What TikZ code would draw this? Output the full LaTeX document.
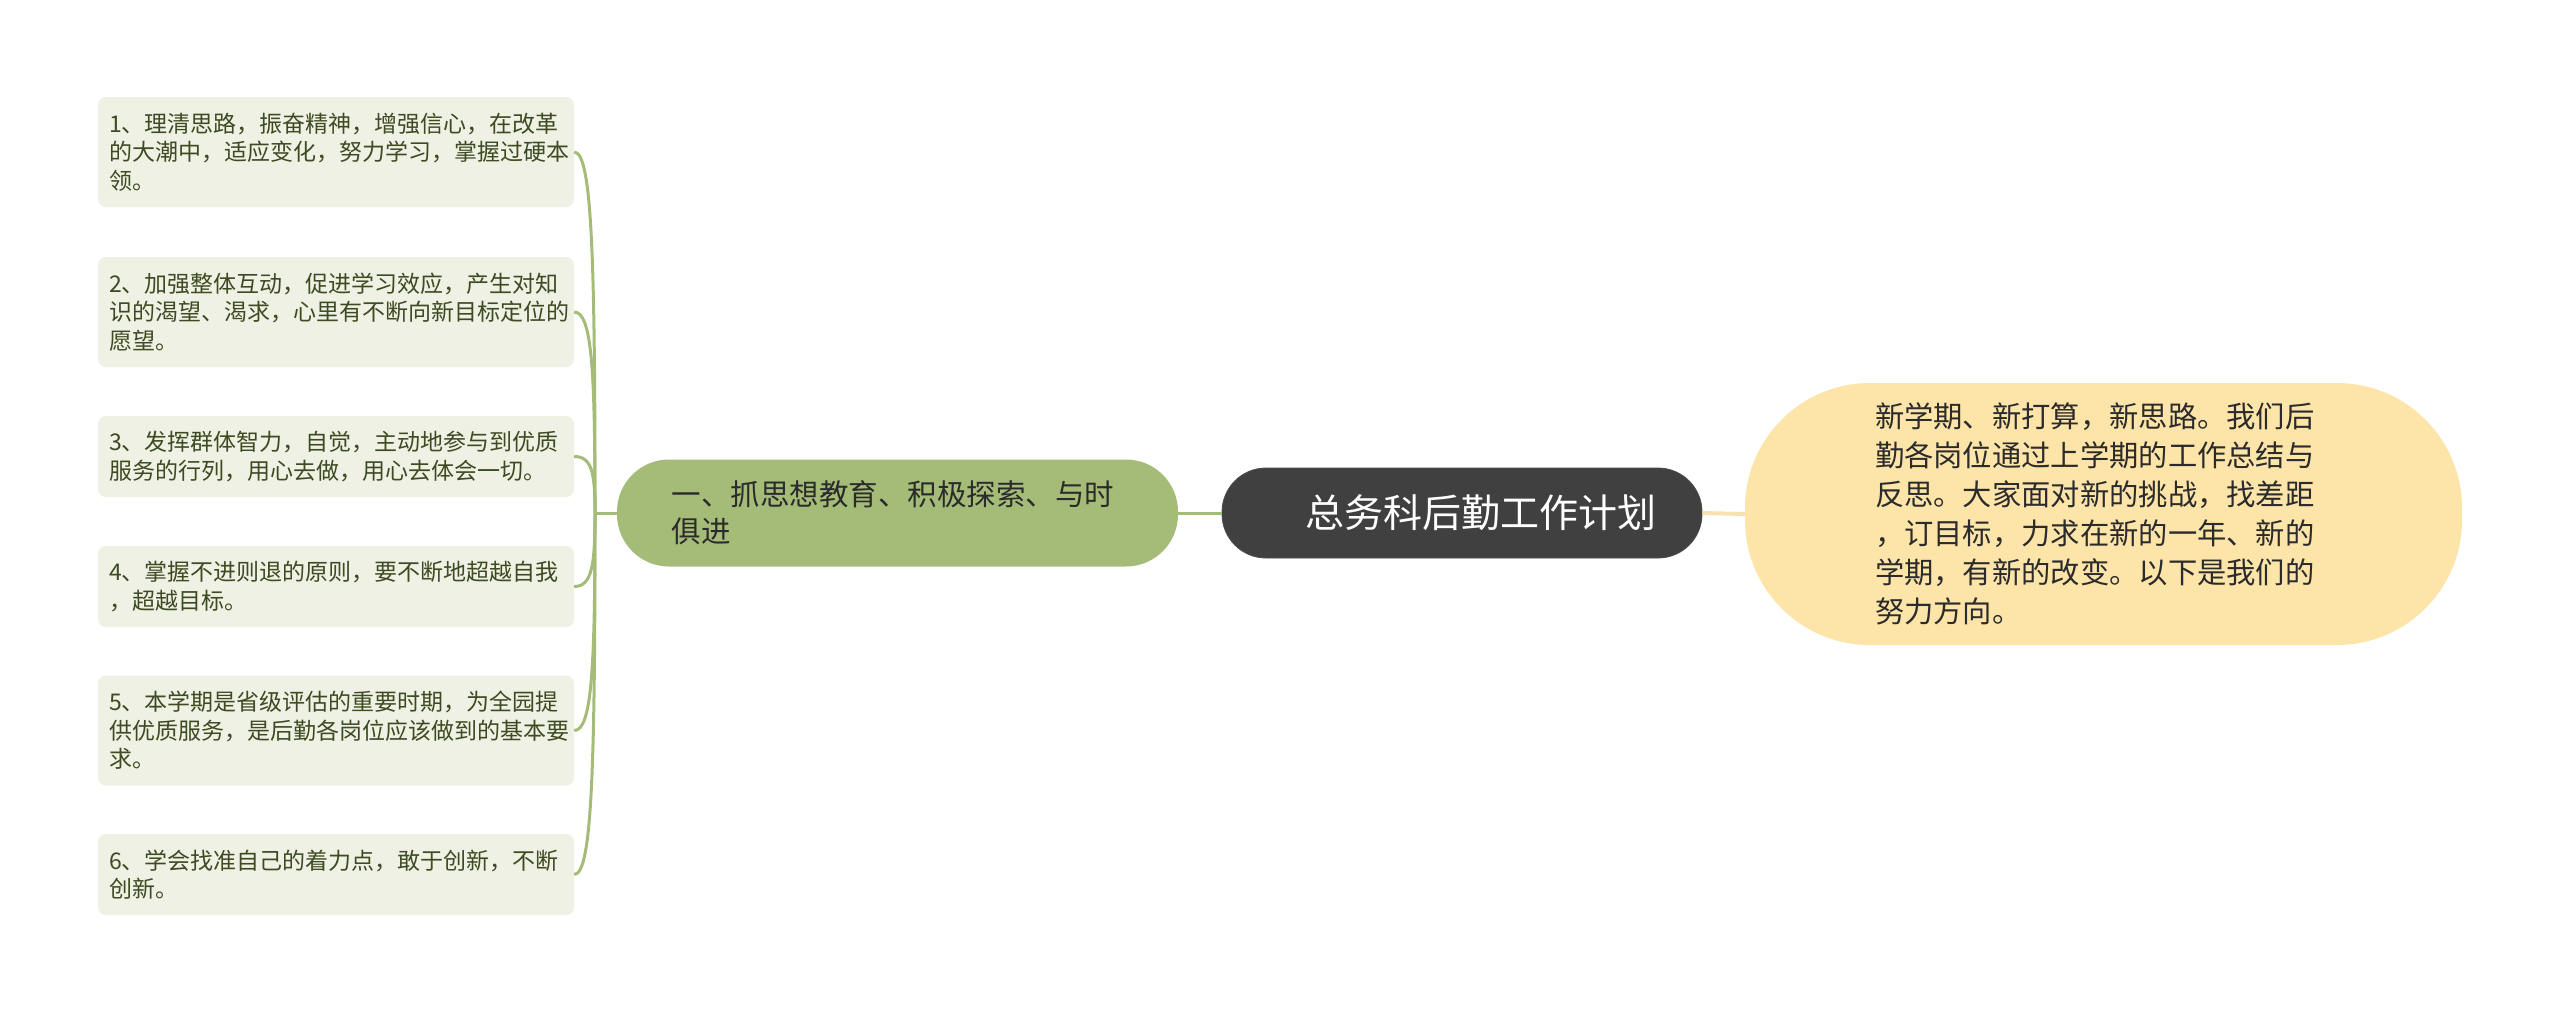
\documentclass[tikz,border=0pt]{standalone}
\usepackage{fontspec}
\setmainfont{Noto Sans CJK SC}
\usetikzlibrary{calc}

\definecolor{leaffill}{HTML}{EEF1E3}
\definecolor{leaftext}{HTML}{3D4A22}
\definecolor{twiggreen}{HTML}{A5BC79}
\definecolor{rootgray}{HTML}{404040}
\definecolor{introfill}{HTML}{FDE4A9}
\definecolor{introline}{HTML}{F8E2AE}
\definecolor{bodytext}{HTML}{2B2B2B}

\tikzset{
  leaf/.style={rectangle,rounded corners=8pt,fill=leaffill,text=leaftext,
    minimum width=476pt,inner xsep=11pt,inner ysep=0pt,text width=454pt,align=left,
    font=\fontsize{23}{28.5}\selectfont},
  twig/.style={draw=twiggreen,line width=3pt},
  branch/.style={rectangle,rounded corners=52pt,fill=twiggreen,text=bodytext,
    minimum width=561pt,minimum height=107pt,text width=452pt,align=left,
    font=\fontsize{29.5}{37}\selectfont},
  rootbox/.style={rectangle,rounded corners=44pt,fill=rootgray,draw=black!70,line width=0.8pt,
    text=white,minimum width=480pt,minimum height=90pt,
    font=\fontsize{39}{44}\selectfont},
  intro/.style={rectangle,rounded corners=125pt,fill=introfill,text=bodytext,
    minimum width=717pt,minimum height=262pt,text width=457pt,align=left,
    font=\fontsize{29.3}{39}\selectfont}
}

\begin{document}
\begin{tikzpicture}[x=1pt,y=-1pt]
  \useasboundingbox (0,0) rectangle (2560,1013);

  \node [rootbox] (main) at (1462,513) {\hspace{38pt}总务科后勤工作计划};
  \node [branch] (branch) at (897.5,513) {一、抓思想教育、积极探索、与时\\俱进};
  \node [intro] (intro) at (2103.5,514) {新学期、新打算，新思路。我们后\\勤各岗位通过上学期的工作总结与\\反思。大家面对新的挑战，找差距\\，订目标，力求在新的一年、新的\\学期，有新的改变。以下是我们的\\努力方向。};

  \node [leaf,minimum height=110pt] (l1) at (336,152) {1、理清思路，振奋精神，增强信心，在改革\\的大潮中，适应变化，努力学习，掌握过硬本\\领。};
  \node [leaf,minimum height=110pt] (l2) at (336,312) {2、加强整体互动，促进学习效应，产生对知\\识的渴望、渴求，心里有不断向新目标定位的\\愿望。};
  \node [leaf,minimum height=81pt] (l3) at (336,456.5) {3、发挥群体智力，自觉，主动地参与到优质\\服务的行列，用心去做，用心去体会一切。};
  \node [leaf,minimum height=81pt] (l4) at (336,586.5) {4、掌握不进则退的原则，要不断地超越自我\\，超越目标。};
  \node [leaf,minimum height=110pt] (l5) at (336,730.5) {5、本学期是省级评估的重要时期，为全园提\\供优质服务，是后勤各岗位应该做到的基本要\\求。};
  \node [leaf,minimum height=81pt] (l6) at (336,874.5) {6、学会找准自己的着力点，敢于创新，不断\\创新。};

  \coordinate (hub) at (595,513);

  \draw [twig] (branch.east) -- (main.west);
  \draw [draw=introline,line width=4pt] (main.east) -- (intro.west);
  \draw [twig] (branch.west) -- (hub);
  \foreach \i in {1,...,6}
    \draw [twig] (hub) .. controls ($(hub)!0.7!(hub |- l\i.east)$) and ($(l\i.east)+(18,0)$) .. (l\i.east);
\end{tikzpicture}
\end{document}
